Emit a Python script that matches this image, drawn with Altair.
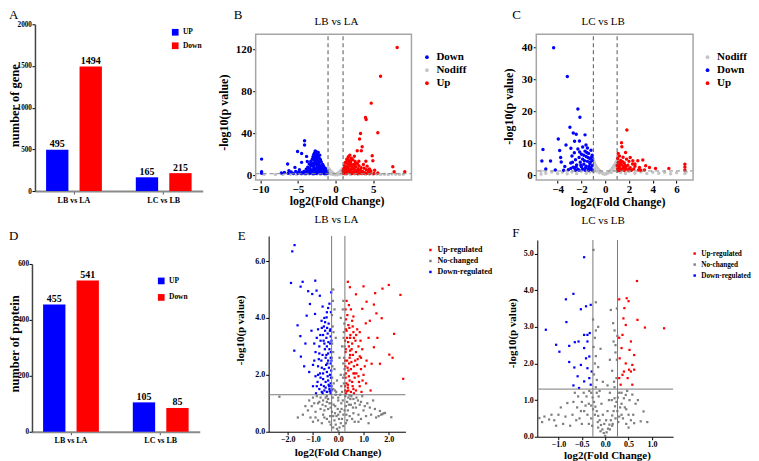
import altair as alt
import pandas as pd

SERIF = "Liberation Serif"
BLUE = "#0000ff"
RED = "#ff0000"
LIGHT_GRAY = "#c4c4c4"
DARK_GRAY = "#7f7f7f"

# ---------------- bar panels (A, D) ----------------
COMPARISONS = ["LB vs LA", "LC vs LB"]
DIRECTIONS = ["UP", "Down"]
GENE_UP = [495, 165]
GENE_DOWN = [1494, 215]
PROTEIN_UP = [455, 105]
PROTEIN_DOWN = [541, 85]
GENE_TICKS = [0, 500, 1000, 1500, 2000]
PROTEIN_TICKS = [0, 200, 400, 600]

# ---------------- volcano B (LB vs LA, genes) ----------------
B_CATS = ["Down", "Nodiff", "Up"]
B_DOWN = [(-9.83, 15.2), (-9.83, 3.2), (-9.83, 1.8), (-4.12, 32.7), (-4.12, 28.6), (-5.05, 22.5),
          (-4.51, 20.6), (-3.85, 17.8), (-4.51, 12.1), (-3.76, 13.0), (-6.37, 10.5), (-5.4, 7.3),
          (-6.2, 4.1), (-5.9, 3.0), (-6.8, 2.5), (-5.3, 3.5), (-4.8, 5.0), (-4.9, 2.6), (-7.2, 2.0),
          (-3.3, 9.0), (-2.7, 23), (-2.5, 22), (-2.8, 21), (-2.4, 20.5), (-2.9, 19.5), (-2.6, 19),
          (-2.3, 18), (-3.0, 17.5), (-2.7, 17), (-2.2, 16), (-2.5, 15.5), (-3.1, 15), (-2.0, 14),
          (-2.8, 14), (-2.4, 13.5), (-3.3, 13), (-1.9, 12.5), (-2.6, 12), (-3.0, 11.5), (-2.2, 11),
          (-3.5, 10.5), (-1.7, 10), (-2.8, 10), (-2.4, 9.5), (-3.2, 9), (-1.6, 8.5), (-2.0, 8.5),
          (-2.9, 8), (-3.7, 7.5), (-1.5, 7), (-2.3, 7), (-3.4, 6.5), (-2.6, 6), (-1.4, 5.5),
          (-1.9, 5.5), (-3.9, 5.5), (-3.0, 5), (-2.2, 4.5), (-1.3, 4), (-3.6, 4), (-2.7, 3.8),
          (-4.2, 3.5), (-1.8, 3.3), (-1.2, 3), (-3.2, 3), (-2.4, 2.8), (-4.5, 2.5), (-1.6, 2.2),
          (-2.9, 2.2), (-3.8, 2.0), (-2.1, 2.0), (-1.1, 1.8), (-5.0, 1.8), (-3.4, 1.7), (-2.5, 1.6),
          (-4.0, 1.6), (-1.5, 1.5), (-3.0, 1.5), (-5.6, 1.5), (-6.3, 1.6), (-2.0, 12.9), (-2.3, 21.5),
          (-2.1, 19), (-2.55, 20), (-2.65, 14.5), (-2.35, 12.2), (-2.75, 11), (-2.15, 9), (-2.45, 7.8),
          (-1.85, 6.5), (-2.85, 6.8), (-3.3, 4.8), (-2.0, 3.8), (-1.45, 2.6), (-3.6, 2.4), (-4.3, 2.0),
          (-2.6, 1.9), (-1.9, 1.7), (-1.3, 2.2), (-2.45, 17.2), (-2.85, 16), (-2.05, 15.2),
          (-3.2, 11), (-1.8, 9.2), (-2.55, 10.6), (-2.95, 9.8), (-1.35, 6.2), (-3.55, 5.9),
          (-2.75, 5.2), (-1.65, 4.6), (-2.45, 4.1), (-3.85, 3.1), (-1.55, 3.0), (-2.2, 2.4),
          (-3.3, 2.3), (-1.2, 1.5), (-4.6, 1.6), (-2.8, 1.55), (-2.0, 6.2)]
B_NODIFF = [(-1.0, 7), (-0.9, 6), (-0.8, 5), (-0.7, 4.2), (-0.6, 3.5), (-0.5, 2.8), (-0.4, 2.2),
            (-0.3, 1.6), (-0.2, 1.1), (-0.1, 0.6), (0.0, 0.2), (0.1, 0.5), (0.2, 1.0), (0.3, 1.5),
            (0.4, 2.1), (0.5, 2.7), (0.6, 3.3), (0.7, 4.0), (0.8, 4.8), (0.9, 5.6), (1.0, 6.5),
            (-0.95, 3), (-0.8, 2), (-0.6, 1), (-0.3, 0.4), (0.3, 0.3), (0.6, 0.9), (0.85, 2.2),
            (0.95, 3.5), (-1.05, 4.5), (-0.9, 1.2), (0.9, 1.0), (-1.5, 0.8), (-2, 0.6), (-2.5, 1.0),
            (-3, 0.5), (-3.5, 0.9), (-4, 0.4), (-4.5, 0.8), (-5.2, 0.5), (-6, 0.7), (-7, 0.4),
            (-8, 0.6), (-9.5, 0.5), (1.5, 0.9), (2, 0.5), (2.5, 1.0), (3, 0.6), (3.5, 0.9), (4, 0.4),
            (4.5, 0.8), (5, 0.5), (5.5, 0.9), (6, 0.6), (6.5, 0.8), (7, 0.5), (7.5, 1.0), (8, 0.7),
            (8.5, 0.6), (9, 0.8), (-1.3, 0.3), (1.3, 0.4)]
B_UP = [(8.19, 121.6), (5.98, 94.3), (4.74, 68.6), (3.98, 54.9), (4.07, 53.0), (5.62, 40.3),
        (3.32, 39.7), (3.19, 34.3), (3.54, 27.0), (3.42, 23.2), (2.88, 23.2), (4.87, 18.4),
        (4.96, 13.7), (4.03, 13.1), (3.1, 13.1), (7.61, 7.9), (7.79, 3.2), (9.2, 3.2), (5.62, 2.0),
        (4.5, 5.8), (4.7, 3.8), (4.2, 8.5), (3.7, 10), (2.5, 18), (5.2, 4.5), (1.9, 19), (1.7, 17.5),
        (2.1, 16), (1.5, 15), (2.3, 14.5), (1.8, 13.5), (2.6, 13), (1.3, 12), (2.0, 12), (2.9, 11),
        (1.6, 10.5), (2.4, 10), (1.2, 9), (3.1, 9), (1.9, 8.5), (2.7, 8), (1.4, 7.5), (3.4, 7),
        (2.2, 7), (1.1, 6), (1.7, 6), (3.0, 6), (3.8, 6.5), (2.5, 5.5), (1.3, 5), (2.0, 4.5),
        (3.3, 4.5), (4.1, 5), (1.0, 4), (2.8, 4), (1.6, 3.5), (3.6, 3.5), (2.3, 3), (4.4, 3.2),
        (1.2, 2.8), (3.0, 2.6), (1.9, 2.4), (3.9, 2.3), (2.6, 2.0), (1.1, 2.0), (4.2, 1.8),
        (3.3, 1.7), (1.5, 1.6), (2.2, 1.5), (4.6, 1.6), (5.1, 1.5), (2.9, 1.5), (1.8, 10.8),
        (1.45, 12.8), (2.2, 9.3), (1.6, 8), (2.4, 6.3), (1.35, 3.8), (2.7, 3.3), (1.75, 2.8),
        (3.5, 2.1), (1.05, 1.6), (1.65, 15.8), (2.05, 14.2), (1.95, 10.2), (1.25, 7.2),
        (2.55, 8.9), (1.55, 5.2), (2.15, 5.8), (2.95, 4.6), (1.4, 2.3), (2.45, 2.6), (3.75, 1.6),
        (1.85, 4.0), (1.15, 3.3), (2.65, 11.2)]

# ---------------- volcano C (LC vs LB, genes) ----------------
C_CATS = ["Nodiff", "Down", "Up"]
C_DOWN = [(-4.34, 39.9), (-3.19, 30.9), (-2.3, 20.7), (-2.13, 18.1), (-2.97, 15), (-2.69, 13.2),
          (-2.44, 12.8), (-1.7, 12.6), (-2.17, 10.7), (-2.58, 10.6), (-3.95, 11.3), (-3.3, 9.4),
          (-5.24, 8.0), (-3.83, 7.7), (-2.89, 8.4), (-1.62, 9.4), (-5.33, 4.4), (-4.6, 4.4),
          (-3.75, 5.5), (-5.0, 1.9), (-4.2, 1.6), (-3.7, 4.1), (-3.4, 2.7), (-1.9, 8.8), (-1.5, 8.5),
          (-2.3, 8.2), (-1.2, 7.8), (-1.7, 7.5), (-2.6, 7.0), (-1.4, 6.8), (-2.0, 6.5), (-1.1, 6.2),
          (-2.8, 6.0), (-1.6, 5.8), (-2.2, 5.5), (-1.3, 5.2), (-1.9, 5.0), (-2.5, 4.8), (-1.1, 4.6),
          (-1.5, 4.3), (-2.1, 4.0), (-2.9, 3.8), (-1.3, 3.6), (-1.8, 3.4), (-2.4, 3.2), (-1.1, 3.0),
          (-1.6, 2.8), (-2.0, 2.6), (-2.7, 2.5), (-1.2, 2.3), (-1.4, 2.0), (-1.9, 1.9), (-2.3, 1.8),
          (-3.1, 1.7), (-1.1, 1.6), (-1.7, 1.5), (-2.5, 1.5), (-3.5, 1.5), (-1.25, 4.1), (-1.45, 5.5),
          (-1.8, 6.2), (-2.15, 7.2), (-1.35, 2.7), (-2.6, 2.2), (-2.75, 4.0), (-1.15, 5.6),
          (-1.55, 7.1), (-1.75, 4.5), (-2.05, 3.1), (-1.25, 1.9), (-1.65, 2.3), (-2.45, 2.6),
          (-2.2, 1.5), (-1.4, 1.5), (-2.9, 2.1)]
C_NODIFF = [(-1.0, 5.0), (-0.95, 4.2), (-0.9, 3.6), (-0.8, 3.0), (-0.7, 2.4), (-0.6, 1.9), (-0.5, 1.5),
            (-0.4, 1.1), (-0.3, 0.8), (-0.2, 0.5), (-0.1, 0.35), (0.0, 0.3), (0.1, 0.4), (0.2, 0.6),
            (0.3, 0.9), (0.4, 1.3), (0.5, 1.7), (0.6, 2.2), (0.7, 2.7), (0.8, 3.3), (0.9, 4.0),
            (1.0, 4.6), (-0.9, 2.0), (-0.7, 1.2), (-0.5, 0.7), (0.5, 0.8), (0.7, 1.4), (0.9, 2.2),
            (-1.0, 1.0), (1.0, 1.2), (-1.3, 1.0), (-1.6, 0.6), (-2, 1.2), (-2.4, 0.5), (-2.8, 1.0),
            (-3.2, 0.4), (-3.6, 0.9), (-4.0, 0.5), (-4.5, 1.0), (-5.0, 0.6), (-5.4, 0.3), (-5.4, 1.2),
            (1.3, 0.8), (1.7, 0.5), (2.0, 1.1), (2.5, 0.6), (3.0, 1.0), (3.5, 0.5), (4.0, 0.9),
            (4.5, 0.6), (5.0, 0.8), (5.5, 0.4), (6.0, 0.7), (6.7, 0.5), (6.8, 1.0)]
C_UP = [(1.82, 14.1), (1.37, 10.1), (1.4, 8.9), (1.09, 6.8), (1.71, 7.1), (2.32, 4.5), (2.74, 4.5),
        (3.16, 4.7), (3.72, 2.4), (4.23, 2.1), (5.35, 2.1), (6.7, 3.4), (6.7, 2.5), (6.7, 1.6),
        (2.88, 2.4), (3.4, 2.9), (2.1, 5.5), (2.5, 3.5), (1.2, 6.0), (1.5, 5.6), (1.05, 5.2),
        (1.8, 5.0), (1.3, 4.6), (2.0, 4.3), (1.1, 4.0), (1.6, 3.8), (2.3, 3.5), (1.35, 3.3),
        (1.9, 3.1), (1.0, 3.0), (2.5, 2.8), (1.5, 2.7), (1.2, 2.4), (2.1, 2.3), (1.7, 2.1),
        (1.05, 2.0), (2.4, 1.9), (1.4, 1.8), (1.9, 1.6), (2.8, 1.6), (1.2, 1.5), (2.2, 1.5),
        (3.0, 1.5), (1.6, 1.4), (1.1, 1.4), (3.3, 1.6), (1.75, 2.6), (1.45, 4.2), (1.25, 3.7),
        (1.15, 2.9), (1.55, 2.2), (1.3, 1.7), (2.0, 1.9), (1.65, 3.1)]

# ---------------- volcano E (LB vs LA, proteins) ----------------
EF_CATS = ["Up-regulated", "No-changed", "Down-regulated"]
E_DOWN = [(-1.73, 6.56), (-1.82, 6.34), (-1.87, 5.23), (-1.41, 5.27), (-0.91, 5.31), (-1.49, 5.1),
          (-1.19, 4.94), (-1.03, 4.84), (-0.86, 4.96), (-0.73, 4.78), (-1.12, 4.49), (-1.25, 4.08),
          (-0.92, 4.14), (-1.61, 3.74), (-1.5, 3.36), (-1.74, 2.85), (-1.48, 2.64), (-1.06, 3.55),
          (-0.66, 3.9), (-0.46, 4.02), (-1.3, 3.1), (-1.15, 2.1), (-1.35, 2.3), (-0.3, 1.35),
          (-0.35, 1.5), (-0.45, 1.4), (-0.55, 1.45), (-0.65, 1.4), (-0.75, 1.5), (-0.85, 1.6),
          (-0.3, 1.7), (-0.4, 1.8), (-0.5, 1.75), (-0.6, 1.85), (-0.7, 1.9), (-0.9, 1.95),
          (-0.33, 2.0), (-0.45, 2.1), (-0.55, 2.2), (-0.65, 2.25), (-0.8, 2.3), (-1.0, 2.35),
          (-0.3, 2.4), (-0.4, 2.5), (-0.5, 2.6), (-0.62, 2.7), (-0.75, 2.75), (-0.9, 2.8),
          (-0.35, 2.9), (-0.45, 3.0), (-0.55, 3.1), (-0.7, 3.2), (-0.85, 3.3), (-0.3, 3.35),
          (-0.42, 3.45), (-0.52, 3.55), (-0.65, 3.65), (-0.38, 3.8), (-0.58, 3.2), (-0.28, 2.15),
          (-0.36, 1.6), (-0.48, 2.35), (-0.68, 1.65), (-0.8, 2.0), (-0.95, 2.5), (-0.5, 1.55),
          (-0.4, 2.75), (-0.6, 3.4), (-0.75, 3.0), (-0.32, 3.1), (-0.3, 2.6), (-1.0, 1.6),
          (-0.88, 1.35), (-0.52, 3.85), (-0.45, 4.2), (-0.35, 4.5), (-0.28, 4.9), (-0.62, 4.4),
          (-0.27, 1.45), (-0.29, 1.9), (-0.27, 2.5), (-0.29, 2.8), (-0.27, 3.2), (-0.31, 3.6),
          (-0.34, 1.42), (-0.38, 1.65), (-0.42, 1.95), (-0.37, 2.25), (-0.43, 2.4), (-0.47, 2.7),
          (-0.39, 3.15), (-0.47, 3.3), (-0.33, 3.55), (-0.57, 1.6), (-0.6, 2.05), (-0.53, 2.9),
          (-0.67, 2.5), (-0.72, 2.05), (-0.77, 2.55), (-0.82, 1.75), (-0.62, 1.35), (-0.71, 3.4),
          (-0.8, 3.6), (-0.95, 3.1), (-0.57, 3.7), (-0.44, 3.65), (-0.29, 4.2), (-0.4, 4.35),
          (-0.55, 4.0), (-0.27, 1.6)]
E_NOCHANGE = [(-0.2, 5.0), (0.2, 4.6), (-0.15, 4.3), (0.1, 4.0), (-0.22, 3.7), (0.22, 3.5), (-0.1, 3.3),
              (0.15, 3.0), (-0.2, 2.8), (0.05, 2.6), (0.2, 2.4), (-0.15, 2.2), (0.1, 2.0), (-0.05, 1.8),
              (0.22, 1.7), (-0.2, 1.5), (0.15, 1.4), (-0.1, 1.3), (0.0, 0.02), (-0.05, 0.1), (0.05, 0.15),
              (-0.1, 0.25), (0.1, 0.3), (-0.15, 0.4), (0.15, 0.45), (-0.2, 0.55), (0.2, 0.6),
              (-0.25, 0.7), (0.25, 0.75), (-0.3, 0.85), (0.3, 0.9), (-0.35, 1.0), (0.35, 1.05),
              (-0.4, 1.15), (0.4, 1.2), (-0.45, 1.25), (0.45, 1.28), (-0.5, 0.9), (0.5, 0.95),
              (-0.6, 1.1), (0.6, 1.15), (-0.7, 0.8), (0.7, 0.85), (-0.8, 1.0), (0.8, 0.6), (-0.9, 0.7),
              (0.9, 1.05), (-1.0, 1.2), (1.0, 0.75), (-1.1, 0.5), (1.1, 0.55), (-0.55, 0.5),
              (0.55, 0.45), (-0.65, 0.3), (0.65, 0.35), (-1.3, 0.9), (1.3, 0.6), (1.38, 1.1),
              (1.65, 0.73), (2.1, 0.51), (-2.33, 1.23), (-0.8, 0.4), (0.8, 0.35), (1.5, 0.5),
              (1.2, 0.3), (-1.4, 0.6), (-1.0, 0.35), (1.8, 0.65), (-0.2, 0.15), (0.2, 0.2),
              (-0.35, 0.35), (0.35, 0.4), (-0.12, 0.9), (0.12, 1.0), (0.0, 0.6), (0.0, 1.1),
              (-0.24, 1.9), (0.24, 2.0), (-0.23, 2.3), (0.23, 2.6), (-0.25, 2.6), (0.25, 3.0),
              (-0.24, 3.1), (0.21, 3.3), (-0.19, 3.5), (0.24, 3.8), (-0.25, 4.1), (0.18, 4.3),
              (-0.21, 4.6), (0.25, 2.2), (-0.18, 1.7), (0.19, 1.9), (-0.13, 1.45), (0.12, 1.6),
              (-0.08, 1.4), (0.08, 1.3), (0.0, 1.2), (-0.02, 0.8), (0.03, 0.45), (-0.07, 0.55),
              (0.07, 0.7), (-0.13, 0.65), (0.13, 0.8), (-0.18, 0.95), (0.18, 1.1), (-0.22, 1.2),
              (0.28, 1.25), (-0.28, 1.0), (0.32, 0.6), (-0.32, 0.55), (0.38, 0.75), (-0.4, 0.8),
              (0.42, 0.95), (-0.45, 1.05), (0.48, 1.15), (-0.5, 1.2), (0.52, 1.25), (-0.55, 0.75),
              (0.58, 0.85), (-0.62, 0.95), (0.66, 1.0), (-0.7, 1.2), (0.72, 1.2), (-0.75, 1.05),
              (0.78, 1.1), (-0.85, 1.25), (0.85, 0.95), (-0.95, 1.0), (0.95, 1.25), (-1.05, 0.9),
              (1.05, 0.9), (-1.15, 1.1), (1.15, 1.0), (-1.2, 0.75), (1.25, 0.85), (1.45, 0.8),
              (1.6, 0.55), (1.7, 0.6), (1.75, 0.62), (1.85, 0.66), (-1.6, 0.5), (-0.3, 0.25),
              (0.3, 0.3), (-0.45, 0.45), (0.45, 0.55), (-0.6, 0.6), (0.6, 0.65), (-0.9, 0.5),
              (0.9, 0.45)]
E_UP = [(2.0, 5.16), (2.46, 4.81), (1.0, 5.11), (1.75, 5.03), (1.46, 4.87), (0.38, 5.27), (0.46, 5.08),
        (0.7, 4.83), (1.12, 4.57), (1.41, 4.47), (0.95, 4.32), (1.51, 4.16), (1.25, 3.9), (1.09, 3.81),
        (1.72, 3.99), (2.21, 3.44), (2.02, 2.71), (2.15, 2.6), (2.57, 1.86), (1.65, 2.39), (1.32, 2.39),
        (1.12, 2.5), (1.41, 2.97), (0.96, 1.8), (1.28, 1.45), (1.55, 3.3), (0.85, 3.5), (0.3, 1.35),
        (0.4, 1.45), (0.5, 1.4), (0.6, 1.5), (0.7, 1.45), (0.85, 1.6), (0.32, 1.7), (0.45, 1.8),
        (0.55, 1.75), (0.65, 1.9), (0.8, 1.95), (0.3, 2.05), (0.4, 2.15), (0.5, 2.2), (0.62, 2.3),
        (0.75, 2.35), (0.9, 2.2), (0.35, 2.5), (0.45, 2.6), (0.58, 2.7), (0.7, 2.8), (0.85, 2.65),
        (0.3, 2.9), (0.42, 3.0), (0.55, 3.1), (0.68, 3.2), (0.8, 3.0), (0.35, 3.3), (0.48, 3.4),
        (0.6, 3.5), (0.75, 3.6), (0.4, 3.75), (0.55, 3.9), (0.3, 3.6), (0.65, 2.05), (0.38, 1.55),
        (0.52, 2.45), (0.92, 1.4), (0.28, 2.3), (0.47, 2.85), (0.62, 3.3), (0.36, 4.1), (0.5, 4.3),
        (0.33, 4.6), (0.27, 1.45), (0.29, 1.9), (0.27, 2.5), (0.29, 2.8), (0.27, 3.2), (0.31, 3.95),
        (0.34, 1.42), (0.38, 1.65), (0.42, 1.95), (0.37, 2.25), (0.43, 2.4), (0.47, 2.7),
        (0.39, 3.15), (0.47, 3.3), (0.33, 3.55), (0.57, 1.6), (0.6, 2.05), (0.53, 2.9), (0.67, 2.5),
        (0.72, 2.05), (0.77, 2.55), (0.82, 1.75), (0.62, 1.35), (0.71, 3.4), (0.88, 3.2), (0.95, 2.9),
        (1.05, 2.3), (1.0, 2.0), (0.57, 3.7), (0.44, 3.65), (0.29, 4.3), (0.42, 4.45), (0.6, 4.05),
        (0.27, 1.6), (1.2, 3.3), (1.1, 1.7), (0.9, 2.6)]

# ---------------- volcano F (LC vs LB, proteins) ----------------
F_DOWN = [(-0.45, 4.9), (-0.68, 3.9), (-0.84, 3.75), (-0.41, 3.56), (-0.31, 3.6), (-0.52, 3.48),
          (-0.83, 3.13), (-1.27, 2.92), (-1.05, 2.51), (-0.98, 2.32), (-0.77, 2.48), (-0.65, 2.58),
          (-0.57, 2.6), (-0.38, 2.78), (-0.33, 2.83), (-0.45, 2.42), (-0.77, 2.04), (-0.66, 1.89),
          (-0.52, 1.96), (-0.38, 1.87), (-0.59, 1.65), (-0.45, 1.51), (-0.34, 1.6), (-0.68, 1.4),
          (-0.56, 1.33), (-0.31, 1.42), (-0.29, 1.78), (-0.41, 2.14), (-0.34, 2.19), (-0.45, 2.78),
          (-0.38, 2.6)]
F_NOCHANGE = [(-0.25, 5.1), (-0.2, 3.67), (0.12, 3.46), (0.25, 3.5), (-0.15, 3.0), (0.2, 2.9), (-0.22, 2.7),
              (0.18, 2.6), (-0.1, 2.4), (0.22, 2.3), (-0.2, 2.2), (0.1, 2.1), (-0.15, 1.9), (0.15, 1.8),
              (-0.24, 1.7), (0.24, 1.6), (-0.05, 1.5), (0.05, 1.4), (-0.2, 1.35), (0.2, 1.35),
              (0.0, 0.02), (-0.03, 0.1), (0.03, 0.12), (-0.06, 0.2), (0.06, 0.22), (-0.09, 0.32),
              (0.09, 0.33), (-0.12, 0.45), (0.12, 0.45), (-0.15, 0.57), (0.15, 0.58), (-0.18, 0.7),
              (0.18, 0.7), (-0.21, 0.82), (0.21, 0.83), (-0.24, 0.95), (0.24, 0.95), (-0.27, 1.07),
              (0.27, 1.07), (-0.3, 1.2), (0.3, 1.2), (-0.35, 0.9), (0.35, 0.9), (-0.4, 1.1), (0.4, 1.05),
              (-0.45, 0.7), (0.45, 0.75), (-0.5, 0.95), (0.5, 0.6), (-0.55, 0.5), (0.55, 0.45),
              (-0.6, 0.8), (-0.7, 0.6), (0.62, 0.37), (0.76, 0.42), (0.82, 0.69), (0.44, 1.14),
              (-0.81, 0.92), (-1.41, 0.51), (-1.3, 0.55), (-1.2, 0.47), (-1.09, 0.45), (-0.9, 0.35),
              (-1.0, 0.6), (-0.75, 0.3), (0.65, 0.9), (-0.5, 0.35), (-0.3, 0.5), (0.3, 0.55),
              (-0.15, 0.25), (0.15, 0.3), (-0.22, 2.0), (0.22, 2.5), (-0.25, 2.45), (0.25, 2.1),
              (-0.18, 1.55), (0.19, 1.5), (-0.26, 3.2), (0.26, 2.75), (-0.2, 2.9), (0.17, 3.1),
              (-0.12, 1.25), (0.1, 1.2), (-0.05, 0.6), (0.05, 0.7), (-0.08, 0.9), (0.08, 1.0),
              (-0.02, 0.35), (0.02, 0.45), (-0.14, 1.1), (0.14, 1.0), (-0.18, 1.2), (0.2, 1.05),
              (-0.22, 0.6), (0.22, 0.5), (-0.26, 0.75), (0.26, 0.7), (-0.3, 0.85), (0.32, 0.8),
              (-0.34, 1.25), (0.35, 1.2), (-0.38, 0.6), (0.38, 0.5), (-0.42, 0.85), (0.42, 0.8),
              (-0.46, 1.2), (0.47, 1.25), (-0.52, 0.7), (0.52, 1.0), (-0.58, 1.1), (0.58, 1.15),
              (-0.65, 1.2), (0.7, 1.0), (-0.68, 0.95), (0.45, 0.35), (-0.35, 0.35), (-0.62, 0.45),
              (-0.85, 0.55), (-0.95, 0.8), (-1.15, 0.6), (-1.35, 0.4), (-1.05, 0.3), (0.5, 0.25),
              (-0.1, 0.15), (0.1, 0.2), (-0.16, 0.4), (0.16, 0.35), (0.35, 0.6), (-0.28, 0.3),
              (0.28, 0.4), (0.6, 0.6), (0.9, 0.4)]
F_UP = [(0.68, 4.25), (0.3, 3.75), (0.46, 3.78), (0.5, 3.7), (0.41, 3.51), (0.39, 3.23), (0.69, 3.19),
        (0.85, 2.98), (1.26, 2.96), (0.44, 3.05), (0.37, 2.78), (0.55, 2.6), (0.3, 2.7), (0.35, 2.42),
        (0.52, 2.37), (0.62, 2.23), (0.31, 2.14), (0.44, 2.0), (0.58, 1.96), (0.51, 1.83),
        (0.37, 1.69), (0.48, 1.6), (0.58, 1.42), (0.33, 1.42), (0.3, 1.6), (0.4, 1.78), (0.55, 1.78),
        (0.62, 1.83)]

# every panel is one grid cell of the same size; the plot rectangle sits inside it
CELL_W, CELL_H = 247, 220


def points_df(groups):
    rows = []
    for cat, pts, z in groups:
        for x, y in pts:
            rows.append({"x": x, "y": y, "cat": cat, "z": z})
    return pd.DataFrame(rows)


def bar_df(up, down):
    rows = []
    for i, c in enumerate(COMPARISONS):
        rows.append({"comparison": c, "direction": "UP", "count": up[i]})
        rows.append({"comparison": c, "direction": "Down", "count": down[i]})
    return pd.DataFrame(rows)


def text_mark(txt, px, py, size, weight="normal", align="left", baseline="alphabetic"):
    return alt.Chart(pd.DataFrame({"t": [txt]})).mark_text(
        font=SERIF, fontSize=size, fontWeight=weight, align=align, baseline=baseline,
        color="black").encode(text="t:N", x=alt.value(px), y=alt.value(py))


def axis(values, title, tx, ty, label_size, title_size, domain, offset, fmt=None, tick=3, pad=1,
         domain_color="black", domain_width=1):
    kw = dict(values=values, grid=False, titleX=tx, titleY=ty, titleFont=SERIF,
              titleFontSize=title_size, titleFontWeight="bold", titleColor="black",
              titleAlign="center", titleBaseline="middle", labelFont=SERIF,
              labelFontSize=label_size, labelFontWeight="bold", labelColor="black",
              labelPadding=pad, labelFlush=False, labelOverlap=False, labelBound=False,
              tickSize=tick, tickColor="black", domain=domain, domainColor=domain_color,
              domainWidth=domain_width, offset=offset)
    kw["title"] = title
    if fmt:
        kw["format"] = fmt
    return alt.Axis(**kw)


def bar_panel(up, down, ymax, yticks, ytitle, plot, tx, ty, leg_x, leg_y, row_pad, ch, cx, cy):
    x0, x1, y0, y1 = plot  # plot rectangle in cell pixels
    base = alt.Chart(bar_df(up, down))
    xenc = alt.X("comparison:N", sort=COMPARISONS,
                 scale=alt.Scale(range=[x0, x1], paddingInner=0.378, paddingOuter=0.124),
                 axis=alt.Axis(title=None, labelAngle=0, labelFont=SERIF, labelFontWeight="bold",
                               labelFontSize=8, labelColor="black", tickSize=3, tickColor="#555555",
                               labelPadding=2, domainColor="#8a8a8a", domainWidth=2,
                               offset=-(CELL_H - y1)))
    xoff = alt.XOffset("direction:N", sort=DIRECTIONS,
                       scale=alt.Scale(paddingInner=0.333, paddingOuter=0))
    yenc = alt.Y("count:Q", scale=alt.Scale(domain=[0, ymax], nice=False, range=[y1, y0]),
                 axis=axis(yticks, ytitle, tx, ty, 7.2, 12.5, True, -x0, fmt="d", tick=3, pad=0.5,
                           domain_color="#444444", domain_width=1.5))
    bars = base.mark_bar().encode(
        x=xenc, xOffset=xoff, y=yenc,
        color=alt.Color("direction:N", sort=DIRECTIONS,
                        scale=alt.Scale(domain=DIRECTIONS, range=[BLUE, RED]),
                        legend=alt.Legend(title=None, orient="none", legendX=leg_x, legendY=leg_y,
                                          symbolType="square", symbolSize=45, symbolStrokeWidth=0,
                                          labelFont=SERIF, labelFontWeight="bold", labelFontSize=7.5,
                                          labelColor="black", labelOffset=4, rowPadding=row_pad,
                                          padding=0)))
    labels = base.mark_text(baseline="bottom", dy=-0.5, font=SERIF, fontWeight="bold",
                            fontSize=10, color="black").encode(
        x=xenc, xOffset=xoff, y=yenc, text="count:Q")
    return alt.layer(bars, labels, text_mark(ch, cx, cy, 13)).properties(
        width=CELL_W, height=CELL_H)


def volcano(groups, cats, colors, mark, size, xdom, ydom, plot, xaxis_args, yaxis_args, legend,
            style, title, title_xy, ch, cxy, framed):
    x0, x1, y0, y1 = plot
    df = points_df(groups)
    xs = alt.Scale(domain=xdom, nice=False, zero=False, range=[x0, x1])
    ys = alt.Scale(domain=ydom, nice=False, zero=False, range=[y1, y0])
    xv, xt, xtx, xty, xfmt = xaxis_args
    yv, yt, ytx, yty, yfmt = yaxis_args
    lab, tit, dom = style
    xaxis = axis(xv, xt, xtx, xty, lab, tit, dom, -(CELL_H - y1), fmt=xfmt, tick=3,
                 pad=0 if not dom else 1)
    yaxis = axis(yv, yt, ytx, yty, lab, tit, dom, -x0, fmt=yfmt, tick=3, pad=1)
    enc = dict(
        x=alt.X("x:Q", scale=xs, axis=xaxis),
        y=alt.Y("y:Q", scale=ys, axis=yaxis),
        color=alt.Color("cat:N", scale=alt.Scale(domain=cats, range=colors), legend=legend),
        order=alt.Order("z:Q"),
    )
    if mark == "circle":
        pts = alt.Chart(df).mark_circle(size=size, opacity=1).encode(**enc)
    else:
        pts = alt.Chart(df).mark_square(size=size, opacity=1).encode(**enc)

    layers = [pts]
    if framed:
        # dashed thresholds |log2FC| = 1 and p = 0.05, light frame round the plot
        v = alt.Chart(pd.DataFrame({"x": [-1.0, 1.0]})).mark_rule(
            color="#555555", strokeDash=[4, 3], strokeWidth=1).encode(
            x="x:Q", y=alt.datum(ydom[0]), y2=alt.datum(ydom[1]))
        hz = alt.Chart(pd.DataFrame({"y": [1.3]})).mark_rule(
            color="#888888", strokeDash=[4, 3], strokeWidth=1).encode(
            y="y:Q", x=alt.datum(xdom[0]), x2=alt.datum(xdom[1]))
        frame = alt.Chart(pd.DataFrame({"f": [0]})).mark_rect(
            fillOpacity=0, stroke="#a6a6a6", strokeWidth=1.5).encode(
            x=alt.datum(xdom[0]), x2=alt.datum(xdom[1]), y=alt.datum(ydom[0]), y2=alt.datum(ydom[1]))
        layers += [v, hz, frame]
    else:
        v = alt.Chart(pd.DataFrame({"x": [-0.263, 0.263]})).mark_rule(
            color="#7a7a7a", strokeWidth=1).encode(
            x="x:Q", y=alt.datum(ydom[0]), y2=alt.datum(ydom[1]))
        hz = alt.Chart(pd.DataFrame({"y": [1.3]})).mark_rule(
            color="#7a7a7a", strokeWidth=1).encode(
            y="y:Q", x=alt.datum(xdom[0]), x2=alt.datum(xdom[1]))
        layers += [v, hz]
    layers.append(text_mark(title, title_xy[0], title_xy[1], 11, align="center"))
    layers.append(text_mark(ch, cxy[0], cxy[1], 13))
    return alt.layer(*layers).properties(width=CELL_W, height=CELL_H)


def big_legend(x, y):
    return alt.Legend(title=None, orient="none", legendX=x, legendY=y, symbolType="circle",
                      symbolSize=14, symbolStrokeWidth=0, labelFont=SERIF, labelFontWeight="bold",
                      labelFontSize=11, labelColor="black", labelOffset=4, rowPadding=1, padding=0)


def small_legend(x, y, size):
    return alt.Legend(title=None, orient="none", legendX=x, legendY=y, symbolType="square",
                      symbolSize=6, symbolStrokeWidth=0, labelFont=SERIF, labelFontWeight="bold",
                      labelFontSize=size, labelColor="black", labelOffset=3, rowPadding=3, padding=0)


# panel letters are placed on their alphabetic baseline (cell pixels)
panel_a = bar_panel(GENE_UP, GENE_DOWN, 2000, GENE_TICKS, "number of gene", (26, 194, 16, 183),
                    -20.5, 97, 162.7, 20.25, 4.5, "A", 0, 11)
panel_d = bar_panel(PROTEIN_UP, PROTEIN_DOWN, 600, PROTEIN_TICKS, "number of protein",
                    (23, 191, 36, 204), -17.5, 115.5, 148.7, 49.25, 7.5, "D", 0, 12.5)

panel_b = volcano(
    [("Nodiff", B_NODIFF, 0), ("Down", B_DOWN, 1), ("Up", B_UP, 1)],
    B_CATS, [BLUE, LIGHT_GRAY, RED], "circle", 12, [-10.62, 10.09], [-4.8, 134.3], (0, 156, 26, 172),
    ([-10, -5, 0, 5], "log2(Fold Change)", 81, 20, "d"),
    ([0, 20, 40, 60, 80, 100, 120], "-log10(p value)", -32, 104, "d"),
    big_legend(166, 43.5), (11, 12, False), "LB vs LA", (81, 16.3), "B", (-22, 11), True)

panel_c = volcano(
    [("Nodiff", C_NODIFF, 0), ("Down", C_DOWN, 1), ("Up", C_UP, 1)],
    C_CATS, [LIGHT_GRAY, BLUE, RED], "circle", 12, [-5.8, 7.39], [-1.56, 44.1], (34, 191, 26, 172),
    ([-4, -2, 0, 2, 4, 6], "log2(Fold Change)", 115.5, 21, "d"),
    ([0, 10, 20, 30, 40], "-log10(p value)", -28, 98, "d"),
    big_legend(200, 43.5), (11, 12, False), "LC vs LB", (101, 16.3), "C", (10, 11), True)

panel_e = volcano(
    [("No-changed", E_NOCHANGE, 0), ("Down-regulated", E_DOWN, 1), ("Up-regulated", E_UP, 1)],
    EF_CATS, [RED, DARK_GRAY, BLUE], "square", 5, [-2.755, 2.66], [0, 6.88], (13, 150, 8, 204),
    ([-2, -1, 0, 1, 2], "log2(Fold Change)", 82, 21, ".1f"),
    ([0, 1, 2, 3, 4, 5, 6], "-log10(p value)", -28, 102, ".1f"),
    small_legend(171, 18, 8), (8, 11, True), "LB vs LA", (81, -4.7), "E", (-18, 12.5), False)

panel_f = volcano(
    [("No-changed", F_NOCHANGE, 0), ("Down-regulated", F_DOWN, 1), ("Up-regulated", F_UP, 1)],
    EF_CATS, [RED, DARK_GRAY, BLUE], "square", 5, [-1.453, 1.453], [0, 5.37], (35, 171, 12, 209),
    ([-1, -0.5, 0, 0.5, 1], "log2(Fold Change)", 104.7, 19, ".1f"),
    ([0, 1, 2, 3, 4, 5], "-log10(p value)", -25, 105, ".1f"),
    small_legend(189, 22, 7.2), (8, 11, True), "LC vs LB", (101, -3.7), "F", (10, 9), False)

chart = alt.concat(panel_a, panel_b, panel_c, panel_d, panel_e, panel_f, columns=3, spacing=0,
                   bounds="flush").resolve_scale(color="independent").properties(
    padding=0).configure_view(strokeWidth=0)

chart.save("out.html", embed_options={"renderer": "svg", "actions": False})
